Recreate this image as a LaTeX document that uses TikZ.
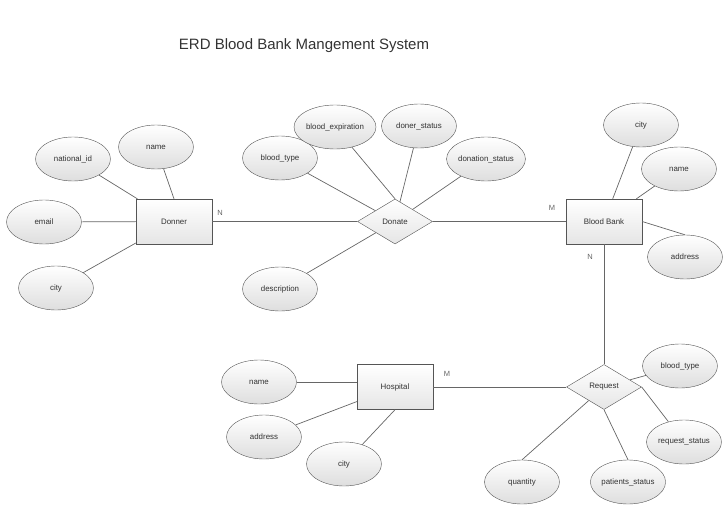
\documentclass[tikz,border=0pt]{standalone}
\usepackage{fontspec}
\setmainfont{Liberation Sans}
\usetikzlibrary{shapes}
\definecolor{erdline}{HTML}{555555}
\definecolor{erdtext}{HTML}{333333}
\tikzset{
attrib/.style={
	  draw=erdline, ellipse, top color=white, bottom color=black!13,
	    minimum width=75pt, minimum height=44pt, inner sep=0pt,
    font=\fontsize{7.9}{9}\selectfont, text=erdtext},
entity/.style={
	  draw=erdline, rectangle, top color=white, bottom color=black!10,
	    minimum width=76pt, minimum height=45pt, inner sep=0pt,
    font=\fontsize{7.9}{9}\selectfont, text=erdtext},
relation/.style={
	  draw=erdline, diamond, top color=white, bottom color=black!10,
	    minimum width=75pt, minimum height=45pt, inner sep=0pt,
    font=\fontsize{7.9}{9}\selectfont, text=erdtext},
card/.style={font=\fontsize{7.5}{8}\selectfont, text=black!60},
conn/.style={draw=black!60, line width=0.7pt}
}

\begin{document}
\begin{tikzpicture}[x=1pt, y=-1pt]
	\useasboundingbox (0,0) rectangle (728,508);
	\node[font=\fontsize{15}{18}\selectfont, text=erdtext] (title) at (304,46) {ERD Blood Bank Mangement System};
	\node[entity] (donner) at (174,221.5) {Donner};
	\node[relation] (donate) at (395,221.5) {Donate};
	\node[entity] (bank) at (604,221.5) {Blood Bank};
	\node[relation] (request) at (604,387) {Request};
	\node[entity] (hosp) at (395,387) {Hospital};
	\node[attrib] (dname) at (156,147) {name};
	\node[attrib] (dnid) at (73,159) {national\_id};
	\node[attrib] (demail) at (44,222) {email};
	\node[attrib] (dcity) at (56,288) {city};
	\node[attrib] (btype) at (280,158) {blood\_type};
	\node[attrib] (bexp) at (335,127) {blood\_expiration};
	\node[attrib] (dstat) at (419,126) {doner\_status};
	\node[attrib] (dnstat) at (486,159) {donation\_status};
	\node[attrib] (descr) at (280,289) {description};
	\node[attrib] (bcity) at (641,125) {city};
	\node[attrib] (bname) at (679,169) {name};
	\node[attrib] (baddr) at (685,257) {address};
	\node[attrib] (rtype) at (680,366) {blood\_type};
	\node[attrib] (rstat) at (684,442) {request\_status};
	\node[attrib] (pstat) at (628,482) {patients\_status};
	\node[attrib] (qty) at (522,482) {quantity};
	\node[attrib] (hname) at (259,382) {name};
	\node[attrib] (haddr) at (264,437) {address};
	\node[attrib] (hcity) at (344,464) {city};
	\node[card] (n1) at (220,213) {N};
	\node[card] (m1) at (552,208) {M};
	\node[card] (n2) at (590,257) {N};
	\node[card] (m2) at (447,374) {M};
	\draw[conn] (donner) -- (donate);
	\draw[conn] (donate) -- (bank);
	\draw[conn] (bank) -- (request);
	\draw[conn] (hosp) -- (request);
	\draw[conn] (dname) -- (donner.north);
	\draw[conn] (dnid) -- (donner);
	\draw[conn] (demail) -- (donner);
	\draw[conn] (dcity) -- (donner);
	\draw[conn] (btype) -- (donate);
	\draw[conn] (bexp) -- (donate.north);
	\draw[conn] (dstat) -- (donate);
	\draw[conn] (dnstat) -- (donate);
	\draw[conn] (descr) -- (donate);
	\draw[conn] (bcity) -- (bank);
	\draw[conn] (bname) -- (bank);
	\draw[conn] (baddr.north) -- (bank.east);
	\draw[conn] (rtype) -- (request);
	\draw[conn] (rstat) -- (request.east);
	\draw[conn] (pstat.north) -- (request.south);
	\draw[conn] (qty.north) -- (request);
	\draw[conn] (hname.east) -- (hname.east -| hosp.west);
	\draw[conn] (haddr) -- (hosp);
	\draw[conn] (hcity) -- (hosp.south);
\end{tikzpicture}
\end{document}
